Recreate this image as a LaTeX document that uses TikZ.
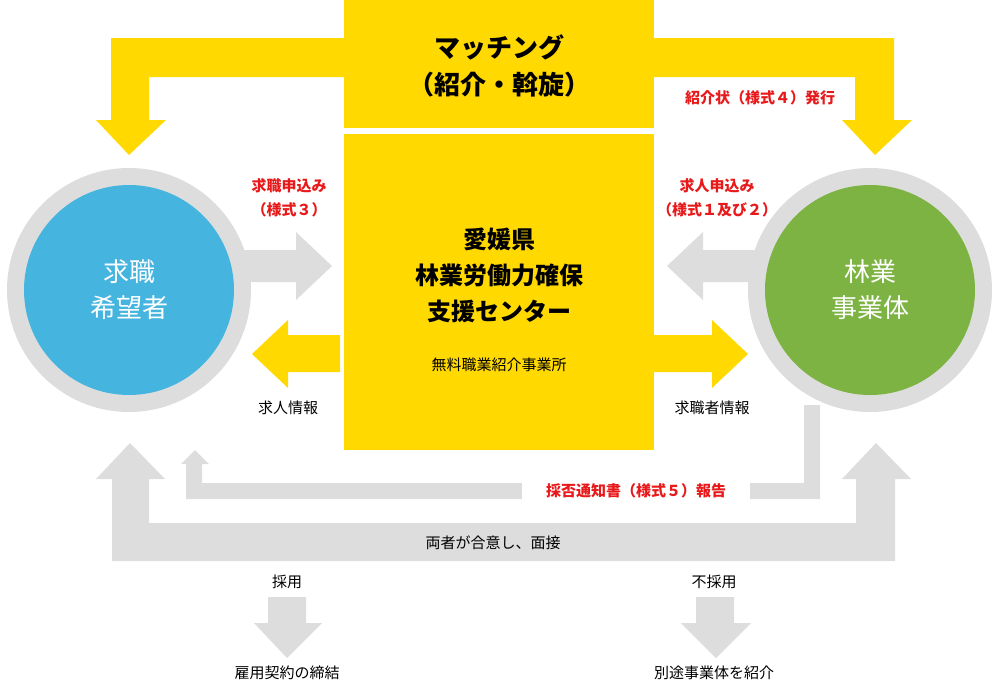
\documentclass[tikz,border=0pt]{standalone}
\usepackage{fontspec}
\setmainfont{Noto Sans CJK JP}
\definecolor{yel}{HTML}{FFD900}
\definecolor{gry}{HTML}{DDDDDD}
\definecolor{blu}{HTML}{45B5E0}
\definecolor{grn}{HTML}{7CB342}
\definecolor{rd}{HTML}{E8191A}
\begin{document}
\begin{tikzpicture}[x=1pt,y=-1pt,
 lbl/.style={font=\fontsize{15}{18}\selectfont,align=center,inner sep=0},
 rlbl/.style={lbl,text=rd,font=\fontsize{15}{24}\selectfont\bfseries},
 big/.style={font=\fontsize{26}{37}\selectfont\bfseries,align=center,inner sep=0},
 circ/.style={font=\fontsize{26}{36}\selectfont,text=white,align=center,inner sep=0}]
\useasboundingbox (0,0) rectangle (999,683);
% top yellow matching arrow
\fill[yel] (129,155)--(96,120)--(111,120)--(111,38)--(894,38)--(894,120)--(912,120)--(875,155)--(842,120)--(855,120)--(855,77)--(149,77)--(149,120)--(166,120)--cycle;
\fill[yel] (344,0) rectangle (654,128);
\node[big] (match) at (499,66) {マッチング\\（紹介・斡旋）};
\node[rlbl] (lt4) at (760,98) {紹介状（様式４）発行};
% circles
\fill[gry] (129,290) circle (122);
\fill[blu] (129,290) circle (105);
\node[circ] (seek) at (129,290) {求職\\希望者};
\fill[gry] (870,290) circle (122);
\fill[grn] (870,290) circle (105);
\node[circ] (biz) at (870,290) {林業\\事業体};
% gray horizontal arrows
\fill[gry] (240,250) -- (296,250) -- (296,232) -- (332,266) -- (296,300) -- (296,282) -- (240,282) -- cycle;
\fill[gry] (760,250) -- (703,250) -- (703,232) -- (667,266) -- (703,300) -- (703,282) -- (760,282) -- cycle;
% center box
\fill[yel] (344,134) rectangle (654,450);
\fill[yel] (340,335) -- (288,335) -- (288,320) -- (252,354) -- (288,388) -- (288,372) -- (340,372) -- cycle;
\fill[yel] (650,335) -- (712,335) -- (712,320) -- (748,354) -- (712,388) -- (712,372) -- (650,372) -- cycle;
\node[big,font=\fontsize{24}{36}\selectfont\bfseries] (ctr) at (499,275) {愛媛県\\林業労働力確保\\支援センター};
\node[lbl] (free) at (499,365) {無料職業紹介事業所};
\node[rlbl] (ap1) at (289,198) {求職申込み\\（様式３）};
\node[rlbl] (ap2) at (717,198) {求人申込み\\（様式１及び２）};
\node[lbl] (info1) at (288,408) {求人情報};
\node[lbl] (info2) at (712,408) {求職者情報};
% report arrow
\fill[gry] (804,405) -- (820,405) -- (820,499) -- (186,499) -- (186,464) -- (181,464) -- (195,450) -- (209,464) -- (202,464) -- (202,483) -- (804,483) -- cycle;
\fill[white] (522,480) rectangle (750,502);
\node[rlbl] (rep) at (636,491) {採否通知書（様式５）報告};
% big U arrow
\fill[gry] (112,479) -- (96,479) -- (130,443) -- (165,479) -- (149,479) -- (149,523) -- (856,523) -- (856,479) -- (842,479) -- (876,443) -- (911,479) -- (895,479) -- (895,561) -- (112,561) -- cycle;
\node[lbl] (meet) at (493,543) {両者が合意し、面接};
% bottom arrows
\node[lbl] (hire) at (287,582) {採用};
\fill[gry] (268,597) -- (306,597) -- (306,623) -- (322,623) -- (287,658) -- (254,623) -- (268,623) -- cycle;
\node[lbl] (con) at (287,673) {雇用契約の締結};
\node[lbl] (nohire) at (714,582) {不採用};
\fill[gry] (696,597) -- (734,597) -- (734,623) -- (751,623) -- (716,658) -- (681,623) -- (696,623) -- cycle;
\node[lbl] (oth) at (714,673) {別途事業体を紹介};
\end{tikzpicture}
\end{document}
